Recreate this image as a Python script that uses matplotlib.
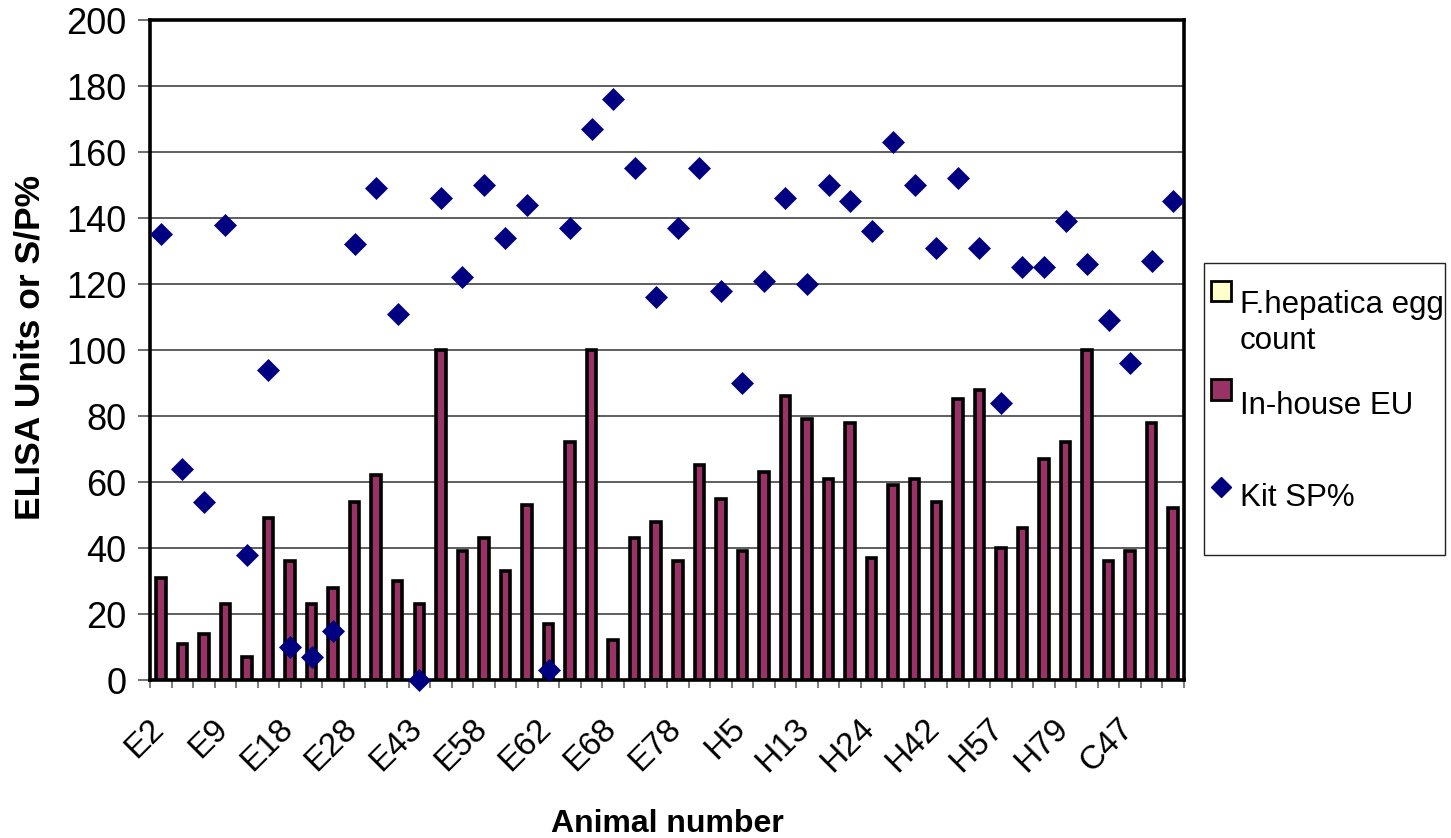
import numpy as np
import matplotlib
matplotlib.use("Agg")
import matplotlib.pyplot as plt
from matplotlib.patches import Rectangle
from matplotlib.lines import Line2D
from matplotlib.transforms import blended_transform_factory, ScaledTranslation

# Every third animal carries a label on the category axis
animal_labels = ["E2", "E9", "E18", "E28", "E43", "E58", "E62", "E68",
                 "E78", "H5", "H13", "H24", "H42", "H57", "H79", "C47"]

# F. hepatica egg counts (all zero for these animals)
egg_count = [0, 0, 0, 0, 0, 0, 0, 0, 0, 0, 0, 0, 0, 0, 0, 0,
             0, 0, 0, 0, 0, 0, 0, 0, 0, 0, 0, 0, 0, 0, 0, 0,
             0, 0, 0, 0, 0, 0, 0, 0, 0, 0, 0, 0, 0, 0, 0, 0]

# In-house ELISA units
in_house_eu = [31, 11, 14, 23, 7, 49, 36, 23, 28, 54, 62, 30, 23, 100, 39, 43,
               33, 53, 17, 72, 100, 12, 43, 48, 36, 65, 55, 39, 63, 86, 79, 61,
               78, 37, 59, 61, 54, 85, 88, 40, 46, 67, 72, 100, 36, 39, 78, 52]

# Commercial kit S/P%
kit_sp = [135, 64, 54, 138, 38, 94, 10, 7, 15, 132, 149, 111, 0, 146, 122, 150,
          134, 144, 3, 137, 167, 176, 155, 116, 137, 155, 118, 90, 121, 146, 120, 150,
          145, 136, 163, 150, 131, 152, 131, 84, 125, 125, 139, 126, 109, 96, 127, 145]

label_every = 3

BAR_COLOR = "#993366"
EGG_COLOR = "#FFFFCC"
KIT_COLOR = "#000080"
REG = ["Liberation Sans", "DejaVu Sans"]

W, H = 1451, 838
fig = plt.figure(figsize=(W / 100, H / 100), dpi=100)
ax = fig.add_axes([150 / W, 158 / H, (1184 - 150) / W, 660 / H])

n = len(in_house_eu)
x = np.arange(n) + 0.5

ax.bar(x, egg_count, width=0.44, color=EGG_COLOR, edgecolor="none", zorder=2)
ax.bar(x, in_house_eu, width=0.44, color=BAR_COLOR, edgecolor="black",
       linewidth=2.6, zorder=3)
ax.plot(x, kit_sp, linestyle="none", marker="D", markersize=11.5,
        color=KIT_COLOR, markeredgecolor=KIT_COLOR, markeredgewidth=0.5,
        zorder=6, clip_on=False)

ax.set_xlim(0, n)
ax.set_ylim(0, 200)

# Grid and frame
ax.set_yticks(np.arange(0, 201, 20))
ax.yaxis.grid(True, color="#333333", linewidth=1.1, zorder=1)
ax.set_axisbelow(True)
for sp in ax.spines.values():
    sp.set_linewidth(2.6)
    sp.set_color("black")
    sp.set_zorder(5)

ax.tick_params(axis="y", direction="out", length=9, width=1.2, color="#555555",
               labelsize=26, pad=8)
for lab in ax.get_yticklabels():
    lab.set_family(REG)

ax.set_xticks(np.arange(0, n + 1))
ax.set_xticklabels([])
ax.tick_params(axis="x", direction="out", length=6, width=1.2, color="#666666")

# Rotated animal labels under every third category
base = blended_transform_factory(ax.transData, ax.transAxes)
offset = ScaledTranslation(-2 / 100, -44 / 100, fig.dpi_scale_trans)
for k, name in enumerate(animal_labels):
    ax.text(x[k * label_every], 0, name, transform=base + offset,
            rotation=45, rotation_mode="anchor", ha="right", va="center",
            fontsize=24, family=REG)

ax.set_xlabel("Animal number", fontsize=23, fontweight="bold", family=REG,
              va="baseline")
ax.xaxis.set_label_coords(0.5, -(832 - 680) / 660)
ax.set_ylabel("ELISA Units or S/P%", fontsize=25.5, fontweight="bold",
              family=REG, va="center")
ax.yaxis.set_label_coords((30 - 150) / 1034, (680 - 347) / 660)

# Legend panel
def fx(px):
    return px / W


def fy(py):
    return 1 - py / H


fig.patches.append(Rectangle((fx(1204), fy(555)), fx(1445) - fx(1204),
                             fy(263) - fy(555), transform=fig.transFigure,
                             facecolor="white", edgecolor="#222222", linewidth=1.0))
fig.patches.append(Rectangle((fx(1211), fy(301)), fx(1231) - fx(1211),
                             fy(281) - fy(301), transform=fig.transFigure,
                             facecolor=EGG_COLOR, edgecolor="black", linewidth=2.0))
fig.patches.append(Rectangle((fx(1211), fy(400)), fx(1231) - fx(1211),
                             fy(379) - fy(400), transform=fig.transFigure,
                             facecolor=BAR_COLOR, edgecolor="black", linewidth=2.0))
fig.add_artist(Line2D([fx(1221)], [fy(487)], transform=fig.transFigure,
                      marker="D", markersize=10, color=KIT_COLOR, linestyle="none"))

leg_kw = dict(fontsize=22.5, family=REG, ha="left", va="baseline")
fig.text(fx(1240), fy(313), "F.hepatica egg", **leg_kw)
fig.text(fx(1240), fy(349), "count", **leg_kw)
fig.text(fx(1240), fy(414), "In-house EU", **leg_kw)
fig.text(fx(1240), fy(506), "Kit SP%", **leg_kw)

fig.savefig("out.png", dpi=100, facecolor="white")
